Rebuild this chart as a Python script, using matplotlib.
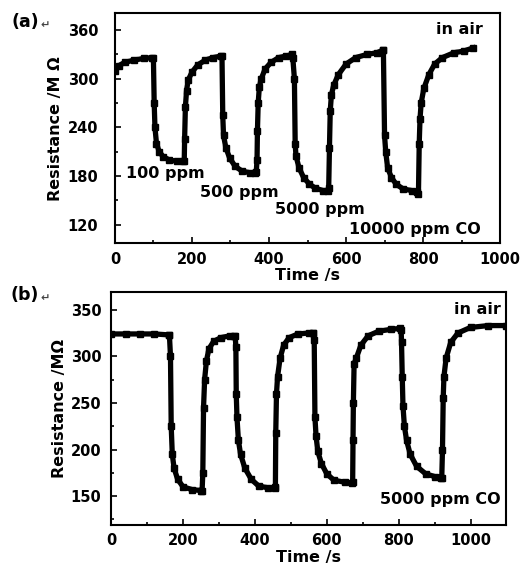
import numpy as np
import matplotlib.pyplot as plt
from matplotlib.ticker import MultipleLocator

# Panel (a): CO concentrations 100 / 500 / 5000 / 10000 ppm
t_a = [0, 10, 25, 50, 75, 97,
       100, 102, 104, 108, 115, 125, 140, 160, 178,
       180, 181, 183, 186, 190, 200, 215, 235, 255, 276,
       278, 280, 282, 288, 298, 312, 330, 350, 365,
       367, 369, 370, 372, 375, 380, 390, 405, 425, 445, 461,
       462, 466, 468, 470, 478, 490, 505, 520, 540, 553,
       555, 557, 559, 562, 568, 580, 600, 625, 655, 680, 695,
       697, 700, 703, 708, 718, 730, 748, 770, 785,
       788, 790, 792, 795, 802, 815, 830, 850, 880, 905, 930]
r_a = [310, 316, 320, 323, 325, 326,
       326, 270, 240, 220, 210, 204, 200, 198, 198,
       198, 225, 265, 285, 298, 308, 317, 323, 326, 328,
       328, 255, 230, 215, 202, 192, 186, 184, 184,
       185, 200, 235, 270, 290, 300, 312, 320, 326, 328, 330,
       325, 300, 220, 205, 190, 178, 170, 165, 162, 162,
       165, 215, 260, 280, 292, 305, 318, 326, 330, 332, 335,
       335, 230, 210, 190, 178, 170, 164, 162, 160,
       158, 220, 250, 270, 288, 305, 318, 326, 332, 334, 338]

# Panel (b): repeated cycles at 5000 ppm CO
t_b = [0, 40, 80, 120, 160,
       162, 165, 167, 170, 175, 185, 200, 225, 250,
       253, 255, 257, 260, 265, 272, 285, 305, 330, 343,
       345, 347, 348, 350, 354, 360, 372, 390, 410, 435, 455,
       457, 458, 460, 463, 470, 480, 495, 520, 550, 562,
       563, 565, 567, 570, 575, 585, 600, 620, 650, 670,
       672, 673, 674, 676, 682, 695, 715, 745, 780, 805,
       807, 808, 810, 812, 816, 822, 832, 850, 875, 900, 918,
       920, 922, 924, 926, 932, 945, 965, 1000, 1050, 1100]
r_b = [324, 324, 324, 324, 323,
       323, 300, 225, 195, 180, 168, 160, 157, 156,
       156, 175, 245, 275, 295, 308, 316, 320, 322, 322,
       322, 310, 260, 235, 210, 195, 180, 168, 161, 159, 159,
       160, 218, 260, 278, 298, 312, 320, 324, 325, 325,
       325, 318, 235, 215, 198, 185, 174, 167, 165, 164,
       165, 210, 250, 292, 298, 312, 322, 327, 329, 330,
       328, 315, 278, 247, 225, 210, 195, 182, 174, 171, 170,
       170, 200, 255, 278, 298, 315, 325, 331, 333, 333]

plt.rcParams['font.family'] = ['DejaVu Sans']
plt.rcParams['font.weight'] = 'bold'

fig = plt.figure(figsize=(5.27, 5.67), dpi=100)
ax1 = fig.add_axes([0.218, 0.571, 0.731, 0.406])
ax2 = fig.add_axes([0.211, 0.074, 0.750, 0.411])

for ax in (ax1, ax2):
    for s in ax.spines.values():
        s.set_linewidth(1.5)
    ax.tick_params(which='both', direction='in', width=1.2, labelsize=10.5,
                   top=False, right=False)
    ax.tick_params(which='major', length=4)
    ax.tick_params(which='minor', length=2.5)

ax1.tick_params(axis='y', pad=12)
ax1.tick_params(axis='x', pad=6)
ax2.tick_params(axis='y', pad=7)
ax2.tick_params(axis='x', pad=6)

ax1.plot(t_a, r_a, '-', color='black', lw=3.8, marker='s', ms=4.2)
ax1.set_xlim(0, 1000)
ax1.set_ylim(97, 381)
ax1.xaxis.set_major_locator(MultipleLocator(200))
ax1.xaxis.set_minor_locator(MultipleLocator(100))
ax1.yaxis.set_major_locator(MultipleLocator(60))
ax1.yaxis.set_minor_locator(MultipleLocator(30))
ax1.set_xlabel('Time /s', fontsize=11.5, fontweight='bold', labelpad=1)
ax1.set_ylabel('Resistance /M Ω', fontsize=11.5, fontweight='bold', labelpad=3)
kw = dict(fontsize=11.5, fontweight='bold', va='center')
ax1.text(30, 183, '100 ppm', **kw)
ax1.text(222, 159, '500 ppm', **kw)
ax1.text(415, 139, '5000 ppm', **kw)
ax1.text(608, 114, '10000 ppm CO', **kw)
ax1.text(955, 361, 'in air', ha='right', **kw)

ax2.plot(t_b, r_b, '-', color='black', lw=3.8, marker='s', ms=4.2)
ax2.set_xlim(0, 1100)
ax2.set_ylim(119, 369)
ax2.xaxis.set_major_locator(MultipleLocator(200))
ax2.xaxis.set_minor_locator(MultipleLocator(100))
ax2.yaxis.set_major_locator(MultipleLocator(50))
ax2.yaxis.set_minor_locator(MultipleLocator(25))
ax2.set_xlabel('Time /s', fontsize=11.5, fontweight='bold', labelpad=1)
ax2.set_ylabel('Resistance /MΩ', fontsize=11.5, fontweight='bold', labelpad=3)
ax2.text(0.985, 0.927, 'in air', transform=ax2.transAxes, ha='right', **kw)
ax2.text(0.985, 0.11, '5000 ppm CO', transform=ax2.transAxes, ha='right', **kw)

fig.text(0.022, 0.961, '(a)', fontsize=12.5, fontweight='bold', va='center')
fig.text(0.077, 0.956, '↵', fontsize=8, va='center', color='#444444')
fig.text(0.020, 0.480, '(b)', fontsize=12.5, fontweight='bold', va='center')
fig.text(0.077, 0.475, '↵', fontsize=8, va='center', color='#444444')

fig.savefig('out.png', dpi=100)
